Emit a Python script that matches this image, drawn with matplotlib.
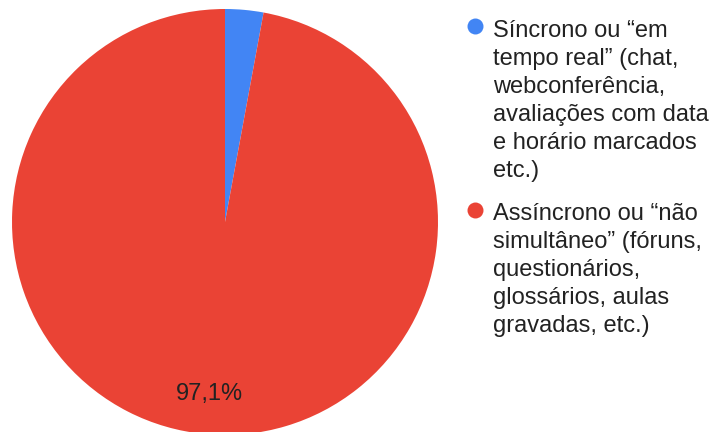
import matplotlib
matplotlib.use('Agg')
import matplotlib.pyplot as plt
from matplotlib.lines import Line2D

plt.rcParams['font.family'] = ['Liberation Sans', 'DejaVu Sans']

# Data
labels = [
    'Síncrono ou “em\ntempo real” (chat,\nwebconferência,\navaliações com data\ne horário marcados\netc.)',
    'Assíncrono ou “não\nsimultâneo” (fóruns,\nquestionários,\nglossários, aulas\ngravadas, etc.)',
]
values = [2.9, 97.1]
colors = ['#4285F4', '#EA4335']

W, H = 712, 432
fig = plt.figure(figsize=(W / 100, H / 100), dpi=100)

# Pie axes: center ~(225, 222) px, radius ~213 px
cx, cy, r = 225, 222, 213
ax = fig.add_axes([(cx - r) / W, (H - cy - r) / H, 2 * r / W, 2 * r / H])


def fmt(p):
    return ('%.1f%%' % p).replace('.', ',') if p > 5 else ''


wedges, texts, autotexts = ax.pie(
    values, colors=colors, startangle=90, counterclock=False,
    autopct=fmt, pctdistance=0.81, radius=1.0,
    wedgeprops=dict(linewidth=0.5, edgecolor='none'),
    textprops=dict(fontsize=17, color='#222222'))
ax.set_xlim(-1, 1)
ax.set_ylim(-1, 1)
ax.set_aspect('equal')
ax.axis('off')

# Legend, laid out by hand so the dots sit on the first line
text_x, dot_x = 493, 475
line_h = 28.3
first_base = [35, 219]
for lab, col, yb in zip(labels, colors, first_base):
    last_base = yb + (lab.count('\n')) * line_h
    fig.text(text_x / W, 1 - last_base / H, lab, fontsize=17,
             color='#222222', ha='left', va='baseline', linespacing=1.35)
    fig.add_artist(Line2D([dot_x / W], [1 - (yb - 9) / H], marker='o',
                          markersize=11.5, markerfacecolor=col,
                          markeredgecolor='none', linestyle='none',
                          transform=fig.transFigure))

fig.savefig('out.png', dpi=100)
